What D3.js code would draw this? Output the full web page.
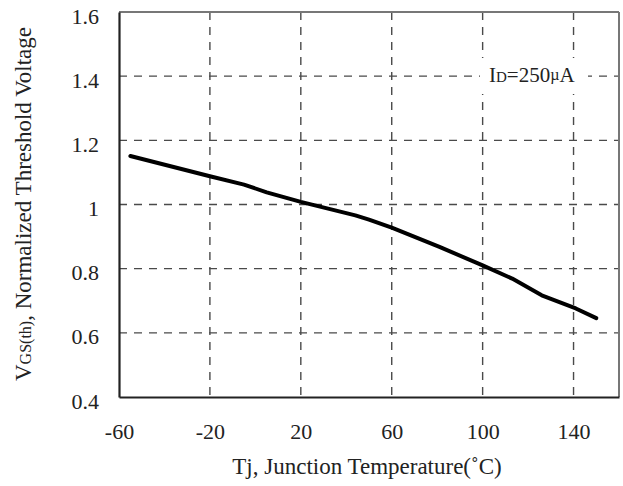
<!DOCTYPE html>
<html>
<head>
<meta charset="utf-8">
<script src="https://cdn.jsdelivr.net/npm/d3@7/dist/d3.min.js"></script>
<style>
  html, body { margin: 0; padding: 0; background: #fff; }
  svg { display: block; }
  text { font-family: "Liberation Serif", "DejaVu Serif", serif; fill: #222; }
</style>
</head>
<body>
<svg id="chart" width="623" height="486"></svg>
<script>
// Junction temperature (°C) and normalized gate threshold voltage
const temperature = [-55, -20, -5, 5, 20, 44, 50, 60, 81, 100, 113, 126, 141, 150];
const vthNormalized = [1.151, 1.088, 1.062, 1.038, 1.008, 0.966, 0.953, 0.928, 0.868, 0.81, 0.769, 0.717, 0.676, 0.646];

const xTicks = [-60, -20, 20, 60, 100, 140];
const yTicks = [0.4, 0.6, 0.8, 1, 1.2, 1.4, 1.6];
const xDomain = [-60, 160];
const yDomain = [0.4, 1.6];

const svg = d3.select("#chart");
const plotLeft = 119, plotRight = 619, plotTop = 12, plotBottom = 397;

const x = d3.scaleLinear().domain(xDomain).range([plotLeft, plotRight]);
const y = d3.scaleLinear().domain(yDomain).range([plotBottom, plotTop]);

// dashed grid
const grid = svg.append("g")
  .attr("stroke", "#4a4a4a")
  .attr("stroke-width", 1.4)
  .attr("stroke-dasharray", "8,7");

grid.selectAll("line.v")
  .data(xTicks.filter(d => d > xDomain[0]))
  .join("line")
  .attr("class", "v")
  .attr("x1", d => x(d)).attr("x2", d => x(d))
  .attr("y1", plotTop).attr("y2", plotBottom);

grid.selectAll("line.h")
  .data(yTicks.filter(d => d > yDomain[0] && d < yDomain[1]))
  .join("line")
  .attr("class", "h")
  .attr("x1", plotLeft).attr("x2", plotRight)
  .attr("y1", d => y(d)).attr("y2", d => y(d));

// plot frame: grey top/right, dark left/bottom
svg.append("line").attr("x1", plotLeft).attr("x2", plotRight).attr("y1", plotTop).attr("y2", plotTop)
  .attr("stroke", "#777").attr("stroke-width", 2);
svg.append("line").attr("x1", plotRight).attr("x2", plotRight).attr("y1", plotTop).attr("y2", plotBottom)
  .attr("stroke", "#777").attr("stroke-width", 2);

// axes with D3 axis generators (ticks drawn as labels only)
const xAxis = d3.axisBottom(x).tickValues(xTicks).tickSize(0).tickPadding(26)
  .tickFormat(d => String(d));
const yAxis = d3.axisLeft(y).tickValues(yTicks).tickSize(0).tickPadding(20)
  .tickFormat(d => d === 1 ? "1" : d.toFixed(1));

const gx = svg.append("g").attr("transform", `translate(0,${plotBottom})`).call(xAxis);
const gy = svg.append("g").attr("transform", `translate(${plotLeft},0)`).call(yAxis);
[gx, gy].forEach(g => {
  g.select(".domain").attr("stroke", "#222").attr("stroke-width", 2.2);
  g.selectAll("text")
    .style("font-family", '"Liberation Serif", serif')
    .style("font-size", "22px")
    .attr("fill", "#222");
});
gy.selectAll("text").attr("dy", "0.5em");

// annotation with white backing
const ann = svg.append("g");
ann.append("rect").attr("x", 480).attr("y", 58).attr("width", 108).attr("height", 36).attr("fill", "#fff");
const annText = ann.append("text").attr("x", 489).attr("y", 82).style("font-size", "21px");
annText.append("tspan").text("I");
annText.append("tspan").style("font-size", "15px").text("D");
annText.append("tspan").text("=250");
annText.append("tspan").style("font-size", "16px").attr("dy", "-2").text("µ");
annText.append("tspan").attr("dy", "2").text("A");

// curve
const line = d3.line()
  .x((d, i) => x(temperature[i]))
  .y(d => y(d))
  .curve(d3.curveLinear);

svg.append("path")
  .datum(vthNormalized)
  .attr("fill", "none")
  .attr("stroke", "#000")
  .attr("stroke-width", 4)
  .attr("stroke-linecap", "round")
  .attr("stroke-linejoin", "round")
  .attr("d", line);

// axis titles
svg.append("text")
  .attr("x", (plotLeft + plotRight) / 2 - 2)
  .attr("y", 474)
  .attr("text-anchor", "middle")
  .style("font-size", "23px")
  .text("Tj, Junction Temperature(˚C)");

const yt = svg.append("text")
  .attr("transform", `translate(31,381) rotate(-90)`)
  .attr("text-anchor", "start")
  .style("font-size", "23px");
yt.append("tspan").text("V");
yt.append("tspan").style("font-size", "16px").text("GS(th)");
yt.append("tspan").text(", Normalized Threshold Voltage");
</script>
</body>
</html>
